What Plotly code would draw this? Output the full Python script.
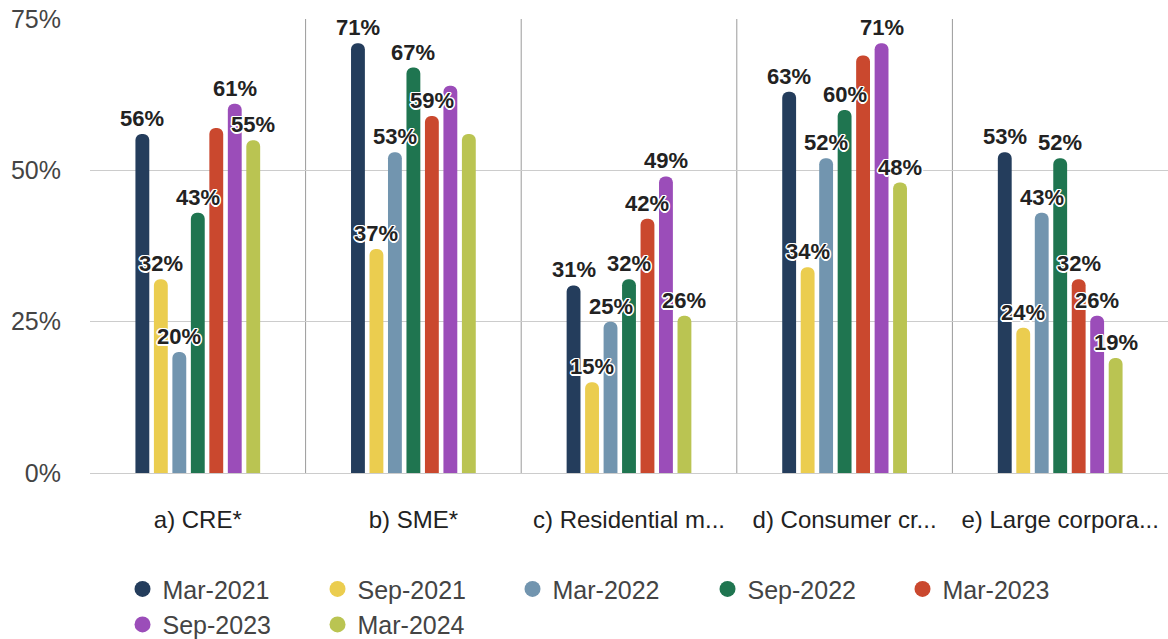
import plotly.graph_objects as go

categories = ["a) CRE*", "b) SME*", "c) Residential m...", "d) Consumer cr...", "e) Large corpora..."]
series_names = ["Mar-2021", "Sep-2021", "Mar-2022", "Sep-2022", "Mar-2023", "Sep-2023", "Mar-2024"]

mar_2021 = [56, 71, 31, 63, 53]
sep_2021 = [32, 37, 15, 34, 24]
mar_2022 = [20, 53, 25, 52, 43]
sep_2022 = [43, 67, 32, 60, 52]
mar_2023 = [57, 59, 42, 69, 32]
sep_2023 = [61, 64, 49, 71, 26]
mar_2024 = [55, 56, 26, 48, 19]

# labels hidden in the reference (overlapping annotations dropped)
label_shown = {
    "Mar-2021": [True, True, True, True, True],
    "Sep-2021": [True, True, True, True, True],
    "Mar-2022": [True, True, True, True, True],
    "Sep-2022": [True, True, True, True, True],
    "Mar-2023": [False, True, True, False, True],
    "Sep-2023": [True, False, True, True, True],
    "Mar-2024": [True, False, True, True, True],
}

y_ticks = [0, 25, 50, 75]
y_tick_labels = ["0%", "25%", "50%", "75%"]

colors = ["#243d5c", "#ebcd4f", "#7295af", "#1f7550", "#ca482e", "#9b4db9", "#bac452"]
series_values = [mar_2021, sep_2021, mar_2022, sep_2022, mar_2023, sep_2023, mar_2024]

FONT = "Liberation Sans, Arial, sans-serif"
halo = ("-1px -1px 0 #fff, 1px -1px 0 #fff, -1px 1px 0 #fff, 1px 1px 0 #fff, "
        "0 -1.5px 0 #fff, 0 1.5px 0 #fff, -1.5px 0 0 #fff, 1.5px 0 0 #fff")

BARGAP = 0.4
BARGROUPGAP = 0.25
n_series = len(series_names)
slot = (1 - BARGAP) / n_series

fig = go.Figure()
for j, (name, vals, col) in enumerate(zip(series_names, series_values, colors)):
    fig.add_trace(go.Bar(
        x=categories, y=vals, name=name, showlegend=False,
        marker=dict(color=col, cornerradius=7, line=dict(width=0)),
        hovertemplate="%{x}<br>" + name + ": %{y}%<extra></extra>",
    ))
    offset = -(1 - BARGAP) / 2 + (j + 0.5) * slot
    for i, (v, s) in enumerate(zip(vals, label_shown[name])):
        if not s:
            continue
        fig.add_annotation(
            x=i + offset, y=v, xref="x", yref="y", text=f"{v}%",
            showarrow=False, yanchor="bottom", xanchor="center", yshift=1,
            font=dict(family=FONT, size=22, color="#222222", weight="bold", shadow=halo),
        )

# legend proxies with circle symbols
for name, col in zip(series_names, colors):
    fig.add_trace(go.Scatter(
        x=[None], y=[None], mode="markers", name=name,
        marker=dict(symbol="circle", size=22, color=col),
    ))

# vertical separators between categories
for i in range(len(categories) - 1):
    fig.add_shape(type="line", xref="x", yref="paper", x0=i + 0.5, x1=i + 0.5,
                  y0=0, y1=1, line=dict(color="#9a9a9a", width=1), layer="below")

fig.update_layout(
    width=1168, height=639,
    margin=dict(l=90, r=0, t=19, b=166),
    paper_bgcolor="white", plot_bgcolor="white",
    barmode="group", bargap=BARGAP, bargroupgap=BARGROUPGAP,
    font=dict(family=FONT, size=25, color="#444444"),
    showlegend=True,
    legend=dict(orientation="h", xref="container", yref="container",
                x=0.1049, y=0.114, xanchor="left", yanchor="top",
                font=dict(size=25, color="#444444"),
                entrywidth=150, tracegroupgap=0, itemwidth=30,
                bgcolor="rgba(0,0,0,0)"),
)
fig.update_xaxes(type="category", showgrid=False, showline=False, ticks="",
                 automargin=False,
                 tickfont=dict(size=24, color="#222222"), ticklabelstandoff=30,
                 range=[-0.5, len(categories) - 0.5])
fig.update_yaxes(range=[0, 75.02], tickvals=y_ticks, ticktext=y_tick_labels,
                 automargin=False, ticklabeloverflow="allow",
                 showgrid=True, gridcolor="#cccccc", gridwidth=1,
                 zeroline=True, zerolinecolor="#cccccc", zerolinewidth=1,
                 tickfont=dict(size=25, color="#444444"), ticklabelstandoff=28,
                 showline=False, ticks="")

fig.write_html("out.html", config={"displayModeBar": False},
               post_script="document.body.style.margin='0';")
